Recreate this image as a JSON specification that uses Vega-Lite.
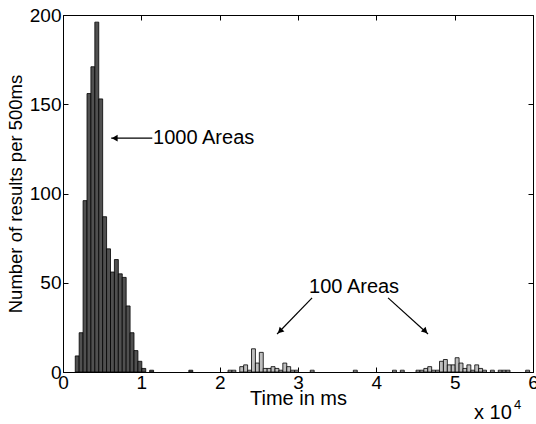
{
  "$schema": "https://vega.github.io/schema/vega-lite/v6.json",
  "width": 470,
  "height": 357,
  "autosize": {"type": "none"},
  "padding": {"left": 63, "top": 15, "right": 3, "bottom": 52},
  "background": "white",
  "config": {
    "font": "Liberation Sans",
    "view": {"stroke": "black", "strokeWidth": 1},
    "axis": {
      "labelFont": "Liberation Sans",
      "titleFont": "Liberation Sans",
      "labelFontSize": 19,
      "titleFontSize": 19,
      "titleFontWeight": "normal",
      "labelColor": "black",
      "titleColor": "black",
      "domainColor": "black",
      "tickColor": "black",
      "grid": false,
      "tickSize": -5,
      "labelPadding": 7
    }
  },
  "datasets": {
    "bars": [
      {"t": 1500, "count": 9, "series": "1000 Areas"},
      {"t": 2000, "count": 22, "series": "1000 Areas"},
      {"t": 2500, "count": 96, "series": "1000 Areas"},
      {"t": 3000, "count": 156, "series": "1000 Areas"},
      {"t": 3500, "count": 171, "series": "1000 Areas"},
      {"t": 4000, "count": 196, "series": "1000 Areas"},
      {"t": 4500, "count": 153, "series": "1000 Areas"},
      {"t": 5000, "count": 87, "series": "1000 Areas"},
      {"t": 5500, "count": 69, "series": "1000 Areas"},
      {"t": 6000, "count": 56, "series": "1000 Areas"},
      {"t": 6500, "count": 63, "series": "1000 Areas"},
      {"t": 7000, "count": 55, "series": "1000 Areas"},
      {"t": 7500, "count": 53, "series": "1000 Areas"},
      {"t": 8000, "count": 37, "series": "1000 Areas"},
      {"t": 8500, "count": 22, "series": "1000 Areas"},
      {"t": 9000, "count": 12, "series": "1000 Areas"},
      {"t": 9500, "count": 6, "series": "1000 Areas"},
      {"t": 10000, "count": 2, "series": "1000 Areas"},
      {"t": 11000, "count": 1, "series": "1000 Areas"},
      {"t": 16000, "count": 1, "series": "1000 Areas"},
      {"t": 21000, "count": 1, "series": "100 Areas"},
      {"t": 21500, "count": 1, "series": "100 Areas"},
      {"t": 22500, "count": 3, "series": "100 Areas"},
      {"t": 23000, "count": 4, "series": "100 Areas"},
      {"t": 23500, "count": 1, "series": "100 Areas"},
      {"t": 24000, "count": 13, "series": "100 Areas"},
      {"t": 24500, "count": 5, "series": "100 Areas"},
      {"t": 25000, "count": 11, "series": "100 Areas"},
      {"t": 25500, "count": 2, "series": "100 Areas"},
      {"t": 26000, "count": 2, "series": "100 Areas"},
      {"t": 26500, "count": 3, "series": "100 Areas"},
      {"t": 27000, "count": 2, "series": "100 Areas"},
      {"t": 27500, "count": 1, "series": "100 Areas"},
      {"t": 28000, "count": 5, "series": "100 Areas"},
      {"t": 28500, "count": 3, "series": "100 Areas"},
      {"t": 29000, "count": 1, "series": "100 Areas"},
      {"t": 29500, "count": 1, "series": "100 Areas"},
      {"t": 31500, "count": 1, "series": "100 Areas"},
      {"t": 37000, "count": 1, "series": "100 Areas"},
      {"t": 42000, "count": 1, "series": "100 Areas"},
      {"t": 43000, "count": 1, "series": "100 Areas"},
      {"t": 45000, "count": 1, "series": "100 Areas"},
      {"t": 45500, "count": 1, "series": "100 Areas"},
      {"t": 46000, "count": 2, "series": "100 Areas"},
      {"t": 46500, "count": 3, "series": "100 Areas"},
      {"t": 47000, "count": 1, "series": "100 Areas"},
      {"t": 47500, "count": 1, "series": "100 Areas"},
      {"t": 48000, "count": 6, "series": "100 Areas"},
      {"t": 48500, "count": 7, "series": "100 Areas"},
      {"t": 49000, "count": 4, "series": "100 Areas"},
      {"t": 49500, "count": 4, "series": "100 Areas"},
      {"t": 50000, "count": 8, "series": "100 Areas"},
      {"t": 50500, "count": 5, "series": "100 Areas"},
      {"t": 51000, "count": 2, "series": "100 Areas"},
      {"t": 51500, "count": 4, "series": "100 Areas"},
      {"t": 52000, "count": 1, "series": "100 Areas"},
      {"t": 52500, "count": 4, "series": "100 Areas"},
      {"t": 53000, "count": 2, "series": "100 Areas"},
      {"t": 53500, "count": 1, "series": "100 Areas"},
      {"t": 54500, "count": 1, "series": "100 Areas"},
      {"t": 55500, "count": 1, "series": "100 Areas"},
      {"t": 56000, "count": 1, "series": "100 Areas"},
      {"t": 56500, "count": 1, "series": "100 Areas"},
      {"t": 59000, "count": 1, "series": "100 Areas"}
    ],
    "arrows": [
      {"x": 11400, "y": 131, "x2": 6150, "y2": 131},
      {"x": 31800, "y": 41.5, "x2": 27330, "y2": 21.3},
      {"x": 41500, "y": 41.5, "x2": 46600, "y2": 21.3}
    ],
    "headLeft": [{"x": 6600, "y": 131}],
    "headDownLeft": [{"x": 27700, "y": 22.9}],
    "headDownRight": [{"x": 46250, "y": 22.9}],
    "noteLeft": [{"x": 11500, "y": 131, "label": "1000 Areas"}],
    "noteCenter": [{"x": 37160, "y": 47.6, "label": "100 Areas"}],
    "exponentBase": [{"x": 52470, "y": -23, "label": "x 10"}],
    "exponent": [{"x": 57580, "y": -18.5, "label": "4"}]
  },
  "layer": [
    {
      "data": {"name": "bars"},
      "mark": {"type": "bar", "binSpacing": 0, "stroke": "black", "strokeWidth": 0.8},
      "encoding": {
        "x": {
          "field": "t",
          "bin": {"step": 500, "extent": [0, 60000]},
          "type": "quantitative",
          "scale": {"domain": [0, 60000], "nice": false},
          "axis": {
            "values": [0, 10000, 20000, 30000, 40000, 50000, 60000],
            "labelExpr": "datum.value / 10000",
            "title": "Time in ms",
            "titleFontSize": 20,
            "titlePadding": -4,
            "labelFlush": false,
            "labelPadding": 6
          }
        },
        "y": {
          "field": "count",
          "aggregate": "sum",
          "type": "quantitative",
          "scale": {"domain": [0, 200], "nice": false},
          "axis": {
            "values": [0, 50, 100, 150, 200],
            "title": "Number of results per 500ms",
            "titleFontSize": 18.5,
            "titlePadding": 4
          }
        },
        "color": {
          "field": "series",
          "type": "nominal",
          "scale": {"domain": ["1000 Areas", "100 Areas"], "range": ["#505050", "#bebebe"]},
          "legend": null
        }
      }
    },
    {
      "data": {"name": "arrows"},
      "mark": {"type": "rule", "color": "black", "strokeWidth": 1.2},
      "encoding": {
        "x": {"field": "x", "type": "quantitative", "axis": {"orient": "top", "values": [0, 10000, 20000, 30000, 40000, 50000, 60000], "labels": false, "title": null, "domain": false}},
        "y": {"field": "y", "type": "quantitative", "axis": {"orient": "right", "values": [0, 50, 100, 150, 200], "labels": false, "title": null, "domain": false}},
        "x2": {"field": "x2"},
        "y2": {"field": "y2"}
      }
    },
    {
      "data": {"name": "headLeft"},
      "mark": {"type": "point", "shape": "triangle-up", "angle": 270, "filled": true, "color": "black", "size": 45, "opacity": 1},
      "encoding": {
        "x": {"field": "x", "type": "quantitative", "axis": null},
        "y": {"field": "y", "type": "quantitative", "axis": null}
      }
    },
    {
      "data": {"name": "headDownLeft"},
      "mark": {"type": "point", "shape": "triangle-up", "angle": 225, "filled": true, "color": "black", "size": 45, "opacity": 1},
      "encoding": {
        "x": {"field": "x", "type": "quantitative", "axis": null},
        "y": {"field": "y", "type": "quantitative", "axis": null}
      }
    },
    {
      "data": {"name": "headDownRight"},
      "mark": {"type": "point", "shape": "triangle-up", "angle": 135, "filled": true, "color": "black", "size": 45, "opacity": 1},
      "encoding": {
        "x": {"field": "x", "type": "quantitative", "axis": null},
        "y": {"field": "y", "type": "quantitative", "axis": null}
      }
    },
    {
      "data": {"name": "noteLeft"},
      "mark": {"type": "text", "fontSize": 20, "baseline": "middle", "align": "left", "color": "black"},
      "encoding": {
        "x": {"field": "x", "type": "quantitative", "axis": null},
        "y": {"field": "y", "type": "quantitative", "axis": null},
        "text": {"field": "label"}
      }
    },
    {
      "data": {"name": "noteCenter"},
      "mark": {"type": "text", "fontSize": 20, "baseline": "middle", "align": "center", "color": "black"},
      "encoding": {
        "x": {"field": "x", "type": "quantitative", "axis": null},
        "y": {"field": "y", "type": "quantitative", "axis": null},
        "text": {"field": "label"}
      }
    },
    {
      "data": {"name": "exponentBase"},
      "mark": {"type": "text", "fontSize": 20, "baseline": "middle", "align": "left", "color": "black"},
      "encoding": {
        "x": {"field": "x", "type": "quantitative", "axis": null},
        "y": {"field": "y", "type": "quantitative", "axis": null},
        "text": {"field": "label"}
      }
    },
    {
      "data": {"name": "exponent"},
      "mark": {"type": "text", "fontSize": 13, "baseline": "middle", "align": "left", "color": "black"},
      "encoding": {
        "x": {"field": "x", "type": "quantitative", "axis": null},
        "y": {"field": "y", "type": "quantitative", "axis": null},
        "text": {"field": "label"}
      }
    }
  ],
  "resolve": {"axis": {"x": "independent", "y": "independent"}}
}
